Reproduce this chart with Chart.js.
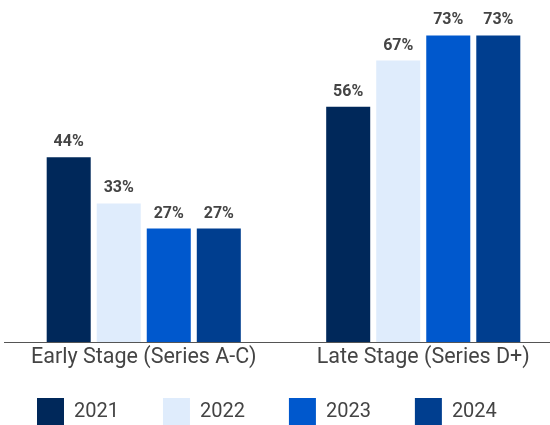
<!DOCTYPE html>
<html>
<head>
<meta charset="utf-8">
<script src="https://cdn.jsdelivr.net/npm/chart.js@4.4.1/dist/chart.umd.min.js"></script>
<style>
  html, body { margin: 0; padding: 0; background: #fff; }
  body { width: 550px; height: 425px; overflow: hidden; position: relative; }
  #wrap { position: absolute; left: -7px; top: 0; width: 570px; height: 435px; }
</style>
</head>
<body>
<div id="wrap"><canvas id="stageChart" width="570" height="435"></canvas></div>
<script>
const categories = ['Early Stage (Series A-C)', 'Late Stage (Series D+)'];
const years = ['2021', '2022', '2023', '2024'];
const values2021 = [44, 56];
const values2022 = [33, 67];
const values2023 = [27, 73];
const values2024 = [27, 73];
const yearColors = ['#00285a', '#dfecfc', '#0058cd', '#003e8f'];

const textColor = '#444444';

// small plugin for the % labels above each bar
const barValueLabels = {
    id: 'barValueLabels',
    afterDatasetsDraw(chart) {
        const ctx = chart.ctx;
        ctx.save();
        ctx.font = 'bold 16px Roboto';
        ctx.fillStyle = textColor;
        ctx.textAlign = 'center';
        ctx.textBaseline = 'middle';
        chart.data.datasets.forEach(function(ds, i) {
            chart.getDatasetMeta(i).data.forEach(function(bar, j) {
                ctx.fillText(ds.data[j] + '%', bar.x, bar.y - 15);
            });
        });
        ctx.restore();
    }
};

const seriesValues = [values2021, values2022, values2023, values2024];

const ctx = document.getElementById('stageChart').getContext('2d');
const stageChart = new Chart(ctx, {
    type: 'bar',
    data: {
        labels: categories,
        datasets: years.map(function(y, i) {
            return {
                label: y,
                data: seriesValues[i],
                backgroundColor: yearColors[i],
                borderWidth: 0,
                categoryPercentage: 0.716,
                barPercentage: 0.88
            };
        })
    },
    options: {
        responsive: false,
        animation: false,
        layout: { padding: { top: 6, left: 0, right: 0, bottom: 0 } },
        scales: {
            x: {
                grid: { display: false, drawTicks: false },
                border: { display: true, color: '#555555', width: 1 },
                ticks: {
                    color: textColor,
                    // mirrored so the labels are not clipped to the thin axis box
                    mirror: true,
                    padding: -29,
                    font: { family: 'Roboto', size: 21.5 }
                },
                afterFit: function(scale) { scale.height = 12; }
            },
            y: {
                min: 0,
                max: 80,
                grid: { display: false, drawTicks: false },
                border: { display: false },
                ticks: { display: false },
                afterFit: function(scale) { scale.width = 11; }
            }
        },
        plugins: {
            legend: {
                position: 'bottom',
                align: 'start',
                labels: {
                    boxWidth: 27,
                    boxHeight: 27,
                    padding: 44,
                    color: textColor,
                    font: { family: 'Roboto', size: 20 }
                }
            },
            tooltip: { enabled: false }
        }
    },
    plugins: [barValueLabels]
});
</script>
</body>
</html>
